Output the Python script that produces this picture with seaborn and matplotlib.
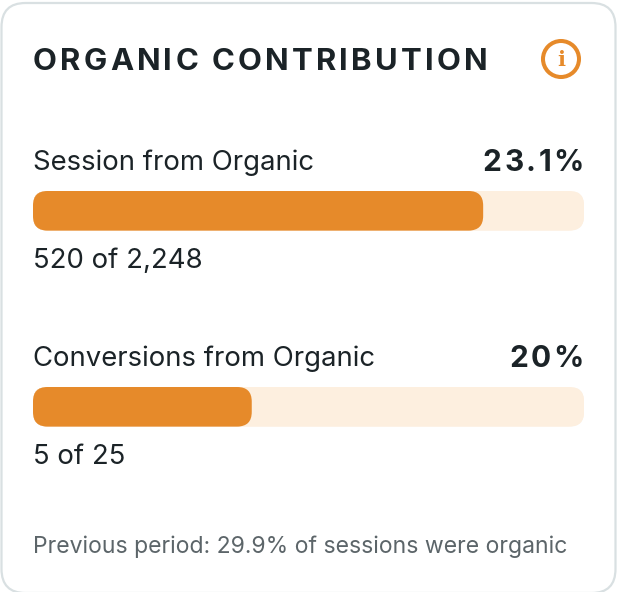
import matplotlib
matplotlib.use("Agg")
import matplotlib.pyplot as plt
import seaborn as sns
from matplotlib.patches import FancyBboxPatch, Circle
from matplotlib.text import Text
from matplotlib.transforms import IdentityTransform, Bbox

title = "ORGANIC CONTRIBUTION"
metrics = ["Session from Organic", "Conversions from Organic"]
percent_labels = ["23.1%", "20%"]
count_labels = ["520 of 2,248", "5 of 25"]
fill_shares = [0.817, 0.397]
track_share = 1.0
footer = "Previous period: 29.9% of sessions were organic"

ORANGE = "#E68A2A"
TRACK = "#FDEFDF"
INK = "#1B2327"
GRAY = "#5C6569"
BORDER = "#D9E0E2"

sns.set_theme(style="white")
plt.rcParams["font.family"] = ["Inter", "DejaVu Sans"]

W, H = 618, 592
fig = plt.figure(figsize=(W / 100, H / 100), dpi=100, facecolor="white")


class SpacedText(Text):
    """One text whose letters are drawn with extra tracking (pixels)."""

    def __init__(self, *args, tracking=0.0, **kwargs):
        super().__init__(*args, **kwargs)
        self.tracking = tracking

    def _width(self, renderer, s):
        return renderer.get_text_width_height_descent(s, self.get_fontproperties(), False)[0]

    def draw(self, renderer):
        s = self.get_text()
        x0, y0 = self.get_transform().transform(self.get_position())
        total = self._width(renderer, s) + self.tracking * (len(s) - 1)
        if self.get_ha() == "right":
            x0 -= total
        for i, ch in enumerate(s):
            if ch == " ":
                continue
            adv = self._width(renderer, s[:i]) if i else 0
            t = Text(x0 + adv + self.tracking * i, y0, ch, color=self.get_color(),
                     fontproperties=self.get_fontproperties(), va="baseline", ha="left",
                     transform=IdentityTransform())
            t.set_figure(self.get_figure())
            t.draw(renderer)

    def get_window_extent(self, renderer=None, dpi=None):
        bb = super().get_window_extent(renderer, dpi)
        extra = self.tracking * (len(self.get_text()) - 1)
        if self.get_ha() == "right":
            return Bbox.from_extents(bb.x0 - extra, bb.y0, bb.x1, bb.y1)
        return Bbox.from_extents(bb.x0, bb.y0, bb.x1 + extra, bb.y1)


# Card layer in pixel coordinates
card = fig.add_axes([0, 0, 1, 1], zorder=0)
card.set_xlim(0, W)
card.set_ylim(H, 0)
card.axis("off")
card.add_patch(FancyBboxPatch((1.5, 3), 614, 590, boxstyle="round,pad=0,rounding_size=24",
                              fc="white", ec=BORDER, lw=1.6, clip_on=True))

card.add_artist(SpacedText(33, 70, title, tracking=3.2, color=INK, fontsize=22.4,
                           fontweight="bold", va="baseline", ha="left",
                           transform=card.transData))
card.add_patch(Circle((561, 59), 18, fc="none", ec=ORANGE, lw=2.9))
card.text(561, 60, "i", color=ORANGE, fontsize=15, fontweight="bold", ha="center", va="center",
          family="DejaVu Serif")

rows = [(191, 170, 268), (387, 366, 464)]
for i, (bar_top, label_y, count_y) in enumerate(rows):
    card.text(33, label_y, metrics[i], color=INK, fontsize=19.8, va="baseline", ha="left")
    card.add_artist(SpacedText(584, label_y + 1, percent_labels[i], tracking=2.5, color=INK,
                               fontsize=21.5, fontweight="bold", va="baseline", ha="right",
                               transform=card.transData))
    card.text(33, count_y, count_labels[i], color=INK, fontsize=19.8, va="baseline", ha="left")

    ax = fig.add_axes([33 / W, (H - bar_top - 39.5) / H, 551 / W, 39.5 / H], zorder=1)
    sns.barplot(x=[track_share], y=[metrics[i]], orient="h", color=TRACK, width=1, saturation=1, ax=ax)
    sns.barplot(x=[fill_shares[i]], y=[metrics[i]], orient="h", color=ORANGE, width=1, saturation=1, ax=ax)
    ax.set_xlim(0, 1)
    ax.set_ylim(0.5, -0.5)
    ax.axis("off")
    fig.canvas.draw()
    for bar, col in zip(list(ax.patches), [TRACK, ORANGE]):
        ext = bar.get_window_extent()
        round_patch = FancyBboxPatch((ext.x0, ext.y0), ext.width, ext.height,
                                     boxstyle="round,pad=0,rounding_size=14.5",
                                     fc=col, ec="none", transform=IdentityTransform(),
                                     clip_on=False, zorder=bar.get_zorder() + 0.1)
        ax.add_artist(round_patch)
        bar.set_clip_path(round_patch)

card.text(33, 553.5, footer, color=GRAY, fontsize=16.57, va="baseline", ha="left")

fig.savefig("out.png", dpi=100, facecolor="white")
